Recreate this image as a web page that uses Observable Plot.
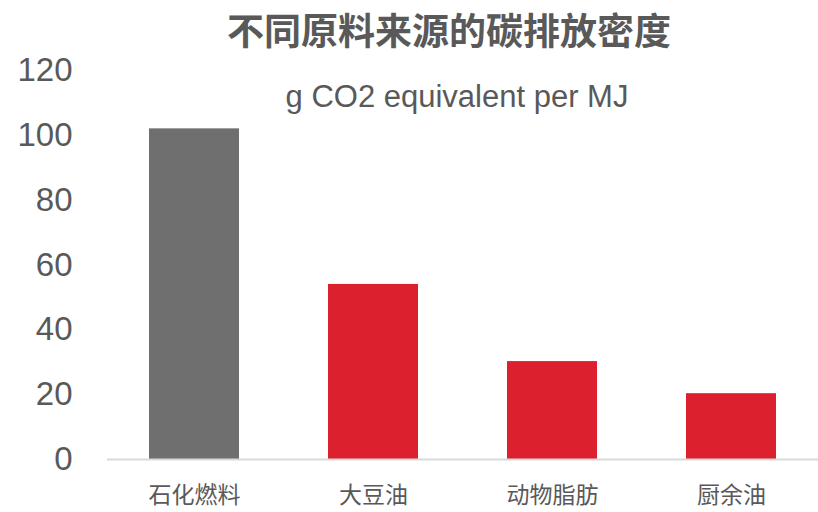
<!DOCTYPE html>
<html>
<head>
<meta charset="utf-8">
<script src="https://cdn.jsdelivr.net/npm/d3@7"></script>
<script src="https://cdn.jsdelivr.net/npm/@observablehq/plot@0.6"></script>
<style>
  html, body { margin: 0; padding: 0; background: #fff; }
  #wrap { width: 818px; height: 512px; overflow: hidden; }
  #title { height: 48px; line-height: 58px; margin: 0; padding-left: 80px; text-align: center;
    font-family: "Noto Sans CJK SC", sans-serif; font-weight: 700; font-size: 37px; color: #595959; box-sizing: border-box; width: 818px; overflow: visible; }
  svg { display: block; }
</style>
</head>
<body>
<div id="wrap">
  <div id="title">不同原料来源的碳排放密度</div>
  <div id="chart"></div>
</div>
<script>
const categories = ["石化燃料", "大豆油", "动物脂肪", "厨余油"];
const values = [102, 54, 30.2, 20.3];
const barColors = ["#6f6f6f", "#dc202e", "#dc202e", "#dc202e"];
const yTicks = [0, 20, 40, 60, 80, 100, 120];
const subtitle = "g CO2 equivalent per MJ";

const data = categories.map((c, i) => ({ cat: c, value: values[i], color: barColors[i] }));

const plot = Plot.plot({
  width: 818,
  height: 464,
  marginTop: 22,
  marginBottom: 53,
  marginLeft: 107,
  marginRight: 0,
  x: { domain: categories, paddingInner: 0.5, paddingOuter: 0.235, label: null },
  y: { domain: [0, 120], ticks: yTicks, label: null },
  style: { fontFamily: "'Liberation Sans', Arial, sans-serif", color: "#595959", background: "#fff" },
  marks: [
    Plot.barY(data, { x: "cat", y: "value", fill: "color" }),
    Plot.ruleY([0], { stroke: "#d9d9d9", strokeWidth: 2 }),
    Plot.axisY({ ticks: yTicks, tickSize: 0, tickPadding: 35, fontSize: 33, fill: "#595959", label: null }),
    Plot.axisX({ tickSize: 0, tickPadding: 27, fontSize: 23, fill: "#595959", label: null,
      fontFamily: "'Noto Sans CJK SC', sans-serif" }),
    Plot.text([subtitle], { frameAnchor: "top", dy: 27, dx: -6, lineAnchor: "middle", fontSize: 31, fill: "#595959" })
  ]
});
document.getElementById("chart").appendChild(plot);
</script>
</body>
</html>
